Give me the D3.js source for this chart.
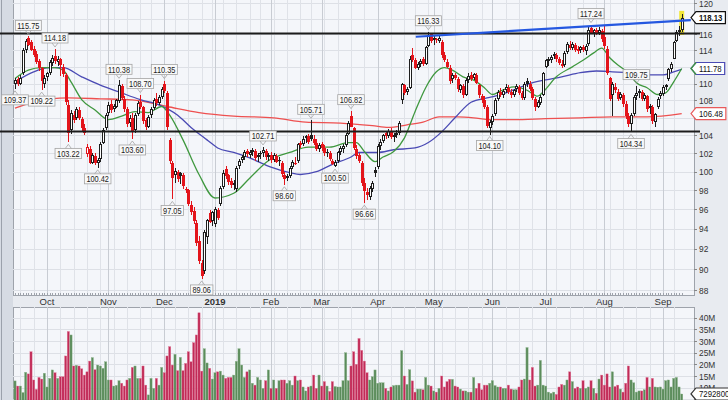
<!DOCTYPE html>
<html><head><meta charset="utf-8">
<script src="https://cdn.jsdelivr.net/npm/d3@7"></script>
<style>
body{margin:0;background:#e6e9ee;}
svg{display:block;font-family:"Liberation Sans",Arial,sans-serif;}
</style>
</head><body>
<svg id="c" width="728" height="400"></svg>
<script>
// ---------------- DATA ----------------
const startDate = "2018-09-13";
const holidays = ["2018-11-22","2018-12-05","2018-12-25","2019-01-01","2019-01-21","2019-02-18","2019-04-19","2019-05-27","2019-07-04","2019-09-02"];

const open = [110.0,110.5,110.0,111.2,114.0,115.5,115.0,114.2,113.6,112.7,
111.8,110.0,110.8,111.3,112.5,113.3,112.6,112.9,112.0,111.0,
107.5,104.6,106.3,106.0,106.9,105.9,104.8,101.9,102.5,101.0,
101.7,100.9,101.4,103.2,104.8,106.6,107.6,107.0,107.3,107.9,
109.7,108.2,107.0,105.4,106.0,104.6,106.4,107.8,107.2,105.7,
105.0,106.3,107.1,108.2,107.7,108.4,110.0,108.9,103.5,100.9,
99.6,100.0,99.9,99.6,98.0,98.0,96.5,95.8,94.6,92.8,
90.6,89.8,93.2,95.6,94.8,94.5,95.9,96.6,98.4,100.3,
99.6,99.0,98.6,98.1,100.6,101.3,101.6,102.3,101.8,102.1,
102.3,101.6,101.9,102.0,102.3,101.6,101.8,101.3,101.7,101.2,
101.0,99.6,99.3,99.5,100.5,101.0,101.2,103.1,103.0,103.7,
103.9,104.0,103.6,103.2,102.5,103.0,102.6,102.0,102.0,101.2,
100.6,101.2,102.1,102.5,102.9,104.2,106.2,104.8,102.5,101.8,
101.0,98.8,97.8,97.3,98.2,100.2,100.5,102.8,103.4,104.3,
103.9,104.5,103.8,104.1,104.3,108.0,109.8,109.0,109.5,113.5,
112.8,111.9,112.4,112.9,112.4,114.6,116.0,115.3,115.4,115.2,
115.0,113.4,112.6,111.9,110.5,111.0,110.5,109.2,109.7,108.7,
110.4,111.0,110.6,111.0,109.8,108.5,108.1,107.2,104.8,105.5,
106.4,108.2,109.0,108.7,109.2,109.5,109.0,108.6,109.3,109.6,
108.9,108.3,110.3,109.9,109.3,108.2,107.3,107.7,108.7,112.0,
112.7,112.8,113.3,113.5,112.9,112.4,112.2,113.8,114.7,114.3,
114.7,114.2,114.0,114.4,113.9,114.8,116.8,116.2,116.5,116.2,
116.4,115.7,114.2,110.6,108.6,109.6,109.0,108.3,108.6,107.6,
106.2,105.3,106.4,108.5,108.9,109.0,108.2,108.5,107.1,107.3,
105.5,107.3,108.5,108.8,109.6,110.5,111.7,113.0,115.2,116.3,
116.6];
const high = [110.7,110.8,111.0,114.3,115.4,115.75,115.3,114.6,113.9,113.0,
112.0,111.0,111.4,112.8,113.4,114.18,113.3,113.1,112.3,111.3,
108.0,106.9,106.8,107.3,107.2,106.1,105.3,103.0,102.8,102.0,
102.0,101.5,103.3,104.8,106.5,107.8,108.0,107.6,108.2,110.38,
109.9,108.5,107.3,106.3,106.5,106.5,107.9,108.70,107.4,106.0,
106.3,107.2,108.3,108.9,108.6,109.6,110.35,109.1,103.7,101.2,
100.4,100.2,100.0,99.9,98.4,98.2,96.9,96.3,94.9,93.3,
90.9,93.9,95.0,95.9,95.8,96.3,96.2,98.5,100.2,100.6,
99.8,99.3,99.1,100.6,101.4,101.8,102.4,102.5,102.4,102.6,
102.5,102.0,102.3,102.71,102.5,102.0,102.2,102.0,101.9,101.6,
101.2,100.0,99.8,100.6,101.3,101.6,103.2,103.4,103.9,104.1,
104.2,105.71,104.0,103.6,103.1,103.3,102.9,102.5,102.3,101.4,
101.3,102.3,102.8,103.0,104.3,105.6,106.82,105.0,102.9,102.0,
101.2,99.3,98.3,98.5,99.0,100.5,103.0,103.6,104.2,104.5,
104.7,104.8,104.3,104.6,105.6,110.1,110.0,109.6,113.3,114.3,
113.1,112.6,113.0,113.2,114.6,116.33,116.2,115.9,115.6,115.9,
115.3,113.8,113.0,112.2,111.3,111.3,110.8,110.0,110.0,110.6,
111.2,111.4,111.3,111.2,110.0,108.8,108.5,107.5,105.7,106.4,
108.3,109.2,109.5,109.3,109.9,109.8,109.3,109.4,109.9,109.8,
109.1,110.2,110.6,110.3,109.6,108.4,108.0,108.6,111.4,113.0,
113.2,113.4,113.8,113.7,113.2,112.8,113.9,115.0,115.2,115.0,
114.9,114.5,114.6,114.7,114.8,116.9,117.24,116.7,116.8,116.9,
116.7,117.0,114.5,110.8,110.2,110.1,109.3,109.0,108.9,107.9,
106.5,106.6,108.6,109.75,109.3,109.2,108.9,108.7,107.6,107.5,
106.6,108.4,109.1,109.8,110.0,111.9,112.6,115.2,116.5,117.0,
118.6];
const low = [109.37,109.7,109.8,111.0,113.7,114.5,113.9,113.2,112.3,111.5,
109.22,109.5,110.3,111.0,112.1,112.4,112.1,110.9,110.8,107.5,
103.22,104.2,105.4,105.8,105.7,104.5,104.0,101.6,100.8,100.8,
100.7,100.42,101.1,103.0,104.6,106.2,106.6,106.7,107.1,107.7,
108.0,106.7,105.0,105.0,103.60,104.3,106.2,107.0,105.3,104.6,
104.8,106.0,106.9,107.4,107.5,108.2,108.9,104.6,100.8,97.05,
98.8,98.9,98.7,98.2,97.7,96.4,95.4,94.5,92.3,90.5,
89.06,89.5,92.5,94.6,94.3,94.2,94.9,96.4,98.2,99.2,
98.6,98.3,98.0,97.8,100.3,100.9,101.3,101.6,101.5,101.7,
101.2,101.1,101.4,101.6,101.3,101.2,101.0,101.1,100.9,100.6,
99.4,98.60,99.0,99.3,100.3,100.7,101.0,102.6,102.8,103.2,
103.0,103.4,102.9,102.3,102.2,102.3,101.7,101.6,101.2,100.7,
100.50,101.0,101.8,102.0,102.7,104.0,104.9,102.4,101.4,101.0,
98.5,96.66,97.0,97.0,97.8,99.4,100.3,102.4,103.1,103.6,
103.7,103.6,103.3,103.7,104.1,107.6,108.6,108.6,109.3,112.6,
111.7,111.6,112.0,112.1,112.2,114.4,114.9,114.7,114.9,114.9,
113.1,112.6,111.8,110.0,110.1,110.4,109.0,108.9,108.3,108.5,
110.1,110.3,110.4,109.9,108.3,107.7,107.0,104.8,104.10,105.2,
106.2,107.9,108.4,108.3,108.9,108.8,108.3,108.4,109.0,108.7,
108.0,108.1,109.6,109.1,108.0,106.8,107.1,107.5,108.5,111.9,
112.1,112.5,113.0,112.6,112.2,111.8,112.0,113.6,114.0,114.0,
113.8,113.6,113.7,113.8,113.5,114.6,116.0,115.7,115.9,115.9,
115.1,114.2,111.0,107.9,106.2,108.9,107.9,108.0,107.3,105.9,
105.0,104.34,106.2,108.1,108.3,107.9,107.9,106.7,106.4,105.3,
104.9,107.0,108.2,108.5,109.2,110.3,111.4,112.9,115.0,115.8,
116.3];
const close = [110.4,109.9,110.6,114.0,115.2,114.7,114.0,113.5,112.6,111.8,
110.3,110.7,111.2,112.6,113.1,112.7,113.0,112.2,111.1,107.8,
104.3,106.5,105.7,107.0,106.0,104.8,104.3,102.7,101.0,101.8,
101.0,101.3,103.0,104.6,106.3,107.5,106.9,107.4,108.0,109.8,
108.3,107.0,105.3,106.0,104.5,106.3,107.7,107.3,105.6,104.9,
106.1,107.0,108.1,107.7,108.4,109.3,109.1,104.9,101.2,99.3,
100.1,99.2,99.5,98.5,98.2,96.6,95.7,94.8,92.6,90.8,
89.3,93.7,94.9,94.7,95.7,96.1,95.1,98.3,99.9,99.5,
98.9,98.6,98.8,100.4,101.2,101.6,102.2,101.9,102.2,102.4,
101.5,101.8,102.0,102.4,101.6,101.8,101.3,101.8,101.1,101.3,
99.7,99.2,99.5,100.4,101.1,100.9,103.0,102.9,103.6,103.9,
103.3,103.6,103.2,102.5,102.9,102.6,102.0,102.2,101.4,100.8,
101.1,102.1,102.6,102.8,104.1,105.4,105.0,102.6,101.7,101.2,
98.8,97.9,97.5,98.3,98.8,99.9,102.8,103.3,104.0,103.9,
104.5,103.8,104.1,104.3,105.4,109.9,108.9,109.3,113.0,112.8,
111.9,112.4,112.7,112.3,114.4,115.9,115.2,115.6,115.3,115.5,
113.4,112.8,112.0,110.3,111.0,110.7,109.3,109.8,108.6,110.4,
110.9,110.5,111.1,110.1,108.6,108.0,107.3,105.1,105.5,106.2,
108.1,109.0,108.7,109.1,109.6,109.0,108.6,109.2,109.7,108.9,
108.3,109.9,110.0,109.4,108.3,107.2,107.8,108.4,111.2,112.8,
112.9,113.2,113.6,112.9,112.5,112.1,113.7,114.8,114.3,114.8,
114.1,113.9,114.4,114.0,114.6,116.6,116.2,116.5,116.1,116.6,
115.4,114.5,111.3,108.2,109.9,109.2,108.2,108.8,107.6,106.2,
105.3,106.3,108.4,108.9,109.1,108.2,108.6,107.0,107.4,105.6,
106.4,108.2,108.9,109.6,109.8,111.7,112.4,115.0,116.3,116.6,
118.13];
// volume in millions of shares
const volume = [12.9,10.7,10.7,7.9,16.6,15.9,25.4,13.3,9.3,14.4,
13.7,16.2,10.3,14.0,17.6,16.4,14.0,14.7,14.7,23.6,
34.1,32.6,19.3,19.6,19.3,18.1,15.4,16.8,21.4,22.9,
17.7,19.7,19.3,18.3,21.1,13.3,13.3,10.7,11.0,13.0,
11.9,10.7,13.3,14.0,18.7,19.3,14.0,14.0,19.3,11.1,
6.9,14.0,9.7,14.0,11.1,18.7,16.4,23.6,27.6,19.7,
24.3,17.3,23.0,17.3,20.4,25.4,21.1,29.3,32.6,42.1,
17.1,26.7,20.6,18.3,13.7,16.4,16.8,17.1,15.4,14.0,
14.4,14.4,15.4,21.3,26.7,19.7,14.4,16.8,17.6,11.9,
11.1,14.4,13.3,9.7,13.0,17.6,9.7,13.3,9.7,13.0,
13.3,13.3,11.9,13.0,11.1,15.0,13.0,13.3,10.3,8.6,
10.3,10.7,15.4,9.7,15.4,10.7,12.6,10.7,8.4,12.6,
10.5,10.3,10.3,13.0,25.0,13.0,19.3,25.4,20.0,31.1,
26.0,21.4,16.4,13.3,14.7,17.6,11.9,12.1,12.1,9.7,
8.6,10.3,10.9,11.1,11.1,25.9,15.0,11.4,17.7,12.9,
8.1,9.4,9.4,9.1,14.4,11.1,10.7,8.6,8.1,9.7,
15.0,10.3,12.6,13.6,13.6,10.7,10.3,9.4,8.6,8.6,
8.1,8.1,14.4,9.7,11.9,9.1,11.1,11.1,11.9,13.0,
10.9,10.3,10.3,9.7,9.7,11.1,9.4,9.1,9.1,10.3,
13.3,13.7,27.2,13.3,18.7,10.7,11.1,21.7,11.1,10.7,
8.1,7.6,8.1,7.1,10.3,11.4,11.1,13.3,16.8,12.6,
9.7,10.3,9.7,13.0,9.7,10.3,13.0,9.7,7.6,13.7,
15.4,11.1,15.9,10.3,16.8,10.5,11.1,9.4,8.1,11.9,
19.3,13.3,12.1,8.1,8.6,8.6,9.1,14.4,10.3,14.0,
10.3,10.2,10.3,9.4,13.0,13.3,10.3,14.0,14.4,10.3,
7.2928];

// moving averages (trading-day index, price)
const ma20Idx = [0,5,10,15,18,21,25,30,35,40,45,50,55,58,63,69,75,82,88,95,103,110,118,125,128,131,135,138,142,146,150,154,158,161,164,168,172,176,179,182,187,192,196,198,203,209,213,217,220,223,227,230,233,237,241,244,247,250];
const ma20 = [110.6,111.6,111.9,111.9,111.6,110.2,108.1,106.9,105.8,106.2,106.7,106.6,107.3,106.3,103.5,99.7,97.2,97.7,99.3,101.2,102.1,102.7,102.7,103.2,103.2,102.2,101.1,101.6,102.2,103.7,106.7,109.5,111.4,111.9,111.6,110.8,110.4,109.5,108.7,109.1,109.6,109.2,108.5,109.0,110.8,112.0,112.8,113.7,114.3,113.1,112.0,111.3,110.1,109.5,108.7,108.9,110.2,111.8];
const ma50Idx = [0,7,13,18,25,32,39,47,54,61,66,72,76,82,88,96,103,107,113,119,126,129,136,142,150,155,160,165,171,177,180,187,193,199,205,212,218,224,230,237,243,247,250];
const ma50 = [110.2,111.4,111.9,111.9,110.8,109.8,109.0,108.1,107.5,106.3,104.9,103.5,102.6,102.1,101.5,100.5,99.9,99.7,100.0,100.8,101.6,102.1,102.1,102.4,102.6,103.2,104.4,106.0,107.8,108.3,108.5,109.24,110.0,110.43,110.8,111.3,111.5,111.4,111.3,111.03,111.03,111.4,111.7];
const ma200Idx = [0,7,20,32,44,57,69,82,97,109,122,134,140,147,153,159,166,172,178,187,199,212,224,237,250];
const ma200 = [107.1,107.8,108.3,108.2,108.07,107.3,106.6,106.2,106.0,105.5,105.4,105.1,104.9,105.2,105.5,106.1,106.1,106.0,105.8,105.8,105.9,106.0,106.1,106.1,106.48];

const supportLevels = [116.1, 104.45];
const trendIdx = [150.3, 253.4];
const trendVal = [115.7, 117.8];

const extIdx  = [0,5,10,15,20,31,39,44,47,56,59,70,93,101,111,120,126,131,155,178,216,231,233];
const extVal  = [109.37,115.75,109.22,114.18,103.22,100.42,110.38,103.60,108.70,110.35,97.05,89.06,102.71,98.60,105.71,100.50,106.82,96.66,116.33,104.10,117.24,104.34,109.75];
const extType = ["L","H","L","H","L","L","H","L","H","H","L","L","H","L","H","L","H","L","H","L","H","L","H"];

const priceTicks = [88,90,92,94,96,98,100,102,104,106,108,110,112,114,116,118,120];
const volTicks = [5,10,15,20,25,30,35,40];
const lastVolumeText = "7292800";

// ---------------- LAYOUT ----------------
const svg = d3.select("#c");
const L = 13, R = 694, T = 0, B = 295, VT = 307, VB = 400;
const N = close.length;
const SQ = 0.82; // horizontal squeeze of the small chart lettering

const fmt = d3.timeFormat("%Y-%m-%d");
const days = [];
{ let d = d3.timeParse("%Y-%m-%d")(startDate);
  while (days.length < N) {
    const wd = d.getDay();
    if (wd !== 0 && wd !== 6 && !holidays.includes(fmt(d))) days.push(new Date(d));
    d = d3.timeDay.offset(d, 1);
  }
}
const monthStarts = [], weekStarts = [];
days.forEach((d,i) => {
  if (i === 0) return;
  if (d.getMonth() !== days[i-1].getMonth()) monthStarts.push(i);
  if (+d3.timeMonday.floor(d) !== +d3.timeMonday.floor(days[i-1])) weekStarts.push(i);
});

const x = d3.scaleLinear().domain([0, N-1]).range([15, 681.7]);
const y = d3.scaleLog().domain([88,120]).range([290,3]);
const yv = d3.scaleLinear().domain([0,40]).range([411,317.7]);

function squeeze(t, f) {
  const w = t.node().getComputedTextLength();
  t.attr("textLength", w*f).attr("lengthAdjust","spacingAndGlyphs");
  return w*f;
}

const defs = svg.append("defs");
defs.append("clipPath").attr("id","cpMain").append("rect").attr("x",L).attr("y",T).attr("width",R-L).attr("height",B-T);
defs.append("clipPath").attr("id","cpVol").append("rect").attr("x",L).attr("y",VT).attr("width",R-L).attr("height",VB-VT);

// backgrounds
svg.append("rect").attr("width",728).attr("height",400).attr("fill","#e8ebf0");
svg.append("rect").attr("x",0).attr("y",0).attr("width",L).attr("height",400).attr("fill","#d6dbe3");
svg.append("line").attr("x1",1.5).attr("x2",1.5).attr("y1",0).attr("y2",400).attr("stroke","#9ba1ab");
svg.append("rect").attr("x",L+0.5).attr("y",-1).attr("width",R-L).attr("height",B+1.5).attr("fill","#f4f6fa").attr("stroke","#9ea3ab");
svg.append("rect").attr("x",L+0.5).attr("y",VT+0.5).attr("width",R-L).attr("height",VB-VT+5).attr("fill","#f4f6fa").attr("stroke","#9ea3ab");

// grids
function grids(g, top, bottom, hVals, hScale) {
  g.selectAll(".hg").data(hVals).join("line")
    .attr("x1",L).attr("x2",R)
    .attr("y1",d=>Math.round(hScale(d))+0.5).attr("y2",d=>Math.round(hScale(d))+0.5)
    .attr("stroke","#dde0e6");
  g.selectAll(".wg").data(weekStarts.filter(i=>!monthStarts.includes(i))).join("line")
    .attr("x1",i=>Math.round(x(i))+0.5).attr("x2",i=>Math.round(x(i))+0.5)
    .attr("y1",top).attr("y2",bottom).attr("stroke","#dfe2e8");
  g.selectAll(".mg").data(monthStarts).join("line")
    .attr("x1",i=>Math.round(x(i))+0.5).attr("x2",i=>Math.round(x(i))+0.5)
    .attr("y1",top).attr("y2",bottom).attr("stroke","#c8ccd3");
}
grids(svg.append("g").attr("clip-path","url(#cpMain)"), T, B, priceTicks, y);
grids(svg.append("g").attr("clip-path","url(#cpVol)"), VT, VB, volTicks, yv);

// day ticks along bottom of main panel
svg.append("g").selectAll("line").data(d3.range(N)).join("line")
  .attr("x1",i=>Math.round(x(i))+0.5).attr("x2",i=>Math.round(x(i))+0.5)
  .attr("y1",B-2).attr("y2",B).attr("stroke","#9ea3ab");

// month labels
svg.append("g").selectAll("text").data(monthStarts).join("text")
  .attr("x",i=>x(i)).attr("y",B+10).attr("text-anchor","middle")
  .attr("font-size",9.5).attr("fill","#333")
  .attr("font-weight",i=>days[i].getMonth()===0?"bold":"normal")
  .text(i=>days[i].getMonth()===0 ? d3.timeFormat("%Y")(days[i]) : d3.timeFormat("%b")(days[i]));

// value tag positions (axis labels they fully cover are left out)
const tagYs = [y(ma200[ma200.length-1]), y(ma20[ma20.length-1]), y(close[N-1])];
const volTagY = yv(volume[N-1]);

// right axes
const gAx = svg.append("g");
gAx.selectAll(".pt").data(priceTicks.filter(d=>tagYs.every(t=>Math.abs(t-y(d))>9))).join("text")
  .attr("x",R+5).attr("y",d=>y(d)+3.5).attr("font-size",9.5).attr("fill","#333").text(d=>d)
  .each(function(){ squeeze(d3.select(this), 0.88); });
gAx.selectAll(".ptk").data(priceTicks).join("line")
  .attr("x1",R).attr("x2",R+3).attr("y1",d=>Math.round(y(d))+0.5).attr("y2",d=>Math.round(y(d))+0.5).attr("stroke","#888");
gAx.selectAll(".vt").data(volTicks.filter(d=>Math.abs(yv(d)-volTagY)>6)).join("text")
  .attr("x",R+5).attr("y",d=>yv(d)+3.5).attr("font-size",9.5).attr("fill","#333").text(d=>d+"M")
  .each(function(){ squeeze(d3.select(this), 0.88); });
gAx.selectAll(".vtk").data(volTicks).join("line")
  .attr("x1",R).attr("x2",R+3).attr("y1",d=>Math.round(yv(d))+0.5).attr("y2",d=>Math.round(yv(d))+0.5).attr("stroke","#888");

// volume bars
const upDay = i => i === 0 ? close[0] >= open[0] : close[i] >= close[i-1];
svg.append("g").attr("clip-path","url(#cpVol)").selectAll("rect").data(d3.range(N)).join("rect")
  .attr("x",i=>x(i)-1.1).attr("width",2.2)
  .attr("y",i=>yv(volume[i])).attr("height",i=>yv(0)-yv(volume[i]))
  .attr("fill",i=>upDay(i)?"#5b8c5b":"#c12b57")
  .attr("stroke",i=>upDay(i)?"#8fb58f":"#e07898").attr("stroke-width",0.4);

// main drawing group
const gm = svg.append("g").attr("clip-path","url(#cpMain)");

const line = d3.line().x(d=>x(d[0])).y(d=>y(d[1])).curve(d3.curveMonotoneX);
gm.append("path").attr("d",line(ma200Idx.map((v,k)=>[v,ma200[k]]))).attr("fill","none").attr("stroke","#ee5050").attr("stroke-width",1.3);
gm.append("path").attr("d",line(ma50Idx.map((v,k)=>[v,ma50[k]]))).attr("fill","none").attr("stroke","#4a4ab4").attr("stroke-width",1.3);
gm.append("path").attr("d",line(ma20Idx.map((v,k)=>[v,ma20[k]]))).attr("fill","none").attr("stroke","#3f983f").attr("stroke-width",1.3);

gm.append("rect").attr("x",x(N-1)-2.5).attr("width",5)
  .attr("y",y(high[N-1])-3).attr("height",y(low[N-1])-y(high[N-1])+6).attr("fill","#f2e63a");

const gc = gm.append("g");
d3.range(N).forEach(i => {
  const col = upDay(i) ? "#1e1e1e" : "#e3141b";
  const cx = Math.round(x(i));
  const top = Math.round(y(Math.max(open[i],close[i])));
  const bot = Math.max(top+1, Math.round(y(Math.min(open[i],close[i]))));
  const hi = Math.round(y(high[i])), lo = Math.round(y(low[i]));
  gc.append("line").attr("x1",cx+0.5).attr("x2",cx+0.5).attr("y1",hi).attr("y2",top).attr("stroke",col);
  gc.append("line").attr("x1",cx+0.5).attr("x2",cx+0.5).attr("y1",bot).attr("y2",lo).attr("stroke",col);
  gc.append("rect").attr("x",cx-0.5).attr("y",top+0.5).attr("width",2).attr("height",Math.max(0.1,bot-top-1))
    .attr("fill", close[i] > open[i] ? "#ffffff" : col).attr("stroke",col);
});

svg.append("g").selectAll("line").data(supportLevels).join("line")
  .attr("x1",0).attr("x2",700).attr("y1",d=>y(d)).attr("y2",d=>y(d))
  .attr("stroke","#1c1c1c").attr("stroke-width",2);
svg.append("line").attr("x1",x(trendIdx[0])).attr("y1",y(trendVal[0]))
  .attr("x2",x(trendIdx[1])).attr("y2",y(trendVal[1]))
  .attr("stroke","#2457e0").attr("stroke-width",2.2);

// extreme labels
const gl = svg.append("g");
extIdx.forEach((idx,k) => {
  const isH = extType[k] === "H";
  const cx = Math.max(15, x(idx));
  const tip = isH ? y(extVal[k]) - 2 : y(extVal[k]) + 2;
  const bh = 10;
  const by = isH ? tip - 4 - bh : tip + 4;
  const g = gl.append("g");
  const t = g.append("text").attr("x",cx).attr("y",by+8.2).attr("text-anchor","middle")
    .attr("font-size",9).attr("fill","#222").text(extVal[k].toFixed(2));
  const w = squeeze(t, SQ) + 4;
  g.insert("rect","text").attr("x",cx-w/2).attr("y",by).attr("width",w).attr("height",bh)
    .attr("fill","#f9f9f9").attr("stroke","#a4a4a4").attr("stroke-width",0.8);
  const px = x(idx);
  const py = isH ? by + bh : by;
  g.append("path").attr("d", `M${px-3},${py} L${px},${tip} L${px+3},${py}`)
    .attr("fill","none").attr("stroke","#a4a4a4").attr("stroke-width",0.8);
});

// right-side value tags
function tag(yc, text, stroke, bold, arrowStroke) {
  const g = svg.append("g");
  const t = g.append("text").attr("x",R+5).attr("y",yc+3.5).attr("font-size",9.5)
    .attr("font-weight",bold?"bold":"normal").attr("fill","#111").text(text);
  const w = squeeze(t, SQ);
  const x0 = R-3, x1 = R+5+w+3, h = 6;
  g.insert("path","text").attr("d",`M${x0},${yc} L${x0+5},${yc-h} L${x1},${yc-h} L${x1},${yc+h} L${x0+5},${yc+h} Z`)
    .attr("fill","#fff").attr("stroke",stroke).attr("stroke-width",1.2);
  if (arrowStroke) g.insert("path","text").attr("d",`M${x0+5},${yc-h} L${x0},${yc} L${x0+5},${yc+h}`)
    .attr("fill","none").attr("stroke",arrowStroke).attr("stroke-width",1.2);
}
tag(tagYs[0], ma200[ma200.length-1].toFixed(2), "#e85a5a", false);
tag(tagYs[1], "111.78", "#4a4ab4", false, "#3f983f");
tag(tagYs[2], close[N-1].toFixed(2), "#111", true);
tag(volTagY, lastVolumeText, "#333", false);
</script>
</body></html>
